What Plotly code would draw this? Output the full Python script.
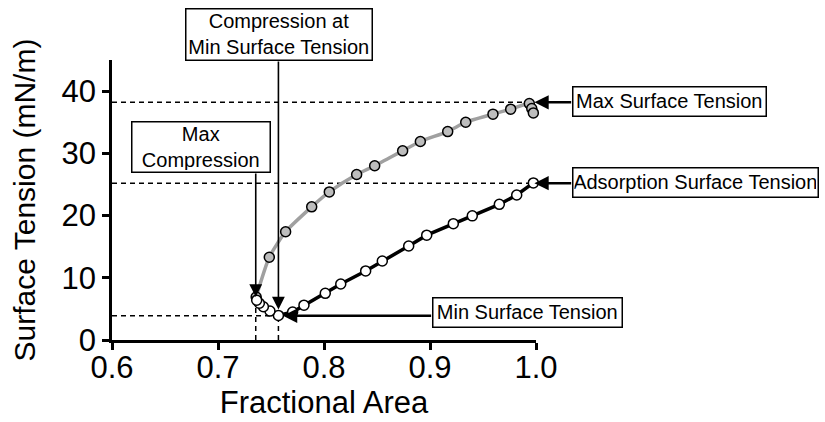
import plotly.graph_objects as go

# ---- data ----
comp_area = [0.9975, 0.9818, 0.9654, 0.9399, 0.9220, 0.8969, 0.8799, 0.8550, 0.8393,
             0.8158, 0.8012, 0.7811, 0.7704, 0.7570, 0.7490, 0.7428, 0.7390, 0.7365]
comp_st = [25.25, 23.3, 21.8, 19.95, 18.7, 16.85, 15.1, 12.7, 11.1,
           9.0, 7.5, 5.6, 4.5, 3.95, 4.65, 5.35, 5.9, 6.4]

exp_area = [0.7360, 0.7484, 0.7638, 0.7884, 0.8050, 0.8308, 0.8478, 0.8742, 0.8909,
            0.9167, 0.9337, 0.9594, 0.9761, 0.9937, 0.9960, 0.9975]
exp_st = [6.9, 13.3, 17.4, 21.4, 23.8, 26.6, 28.0, 30.4, 31.9,
          33.5, 35.0, 36.3, 37.1, 38.0, 37.2, 36.5]

max_st = 38.2
ads_st = 25.2
min_st = 3.9
max_comp_area = 0.7356
min_st_area = 0.757
max_st_area = 0.9955
ads_area = 0.998

x_ticks = [0.6, 0.7, 0.8, 0.9, 1.0]
x_ticklabels = ["0.6", "0.7", "0.8", "0.9", "1.0"]
y_ticks = [0, 10, 20, 30, 40]

FONT = "Liberation Sans, Arial, sans-serif"

fig = go.Figure()

# dashed reference lines
dash = dict(color="black", width=1.5, dash="5px,4px")
fig.add_trace(go.Scatter(x=[0.6, max_st_area], y=[max_st, max_st], mode="lines", line=dash, hoverinfo="skip"))
fig.add_trace(go.Scatter(x=[0.6, ads_area], y=[ads_st, ads_st], mode="lines", line=dash, hoverinfo="skip"))
fig.add_trace(go.Scatter(x=[0.6, min_st_area], y=[min_st, min_st], mode="lines", line=dash, hoverinfo="skip"))
fig.add_trace(go.Scatter(x=[max_comp_area, max_comp_area], y=[0, 6.4], mode="lines", line=dash, hoverinfo="skip"))
fig.add_trace(go.Scatter(x=[min_st_area, min_st_area], y=[0, min_st], mode="lines", line=dash, hoverinfo="skip"))

# expansion (gray)
fig.add_trace(go.Scatter(
    x=exp_area, y=exp_st, mode="lines+markers",
    line=dict(color="#a0a0a0", width=3.5, shape="spline", smoothing=0.6),
    marker=dict(size=10, color="#bdbdbd", line=dict(color="black", width=1.5)),
    cliponaxis=False))
# compression (white)
fig.add_trace(go.Scatter(
    x=comp_area, y=comp_st, mode="lines+markers",
    line=dict(color="black", width=3.5),
    marker=dict(size=10, color="white", line=dict(color="black", width=1.5)),
    cliponaxis=False))

# arrows (tail -> tip), data-space coordinates
arrows = [
    # (tip_x, tip_y, tail_x, tail_y, width, size)
    (min_st_area, 4.9, min_st_area, 45.0, 1.6, 1.6),
    (max_comp_area, 6.9, max_comp_area, 27.0, 1.6, 1.6),
    (0.9985, max_st, 1.0346, max_st, 2.6, 1.1),
    (0.9985, ads_st, 1.0346, ads_st, 2.6, 1.1),
    (0.7613, min_st, 0.9025, min_st, 2.6, 1.1),
]
for tx, ty, sx, sy, w, s in arrows:
    fig.add_annotation(x=tx, y=ty, ax=sx, ay=sy, xref="x", yref="y", axref="x", ayref="y",
                       text="", showarrow=True, arrowhead=2, arrowwidth=w, arrowsize=s,
                       arrowcolor="black")

# text boxes (center position in paper units, outer width, outer height)
boxes = [
    ("Compression at<br>Min Surface Tension", 0.394, 1.091, 186, 51),
    ("Max<br>Compression", 0.210, 0.689, 138, 50),
    ("Max Surface Tension", 1.314, 0.852, 193, 29),
    ("Adsorption Surface Tension", 1.375, 0.564, 245, 29),
    ("Min Surface Tension", 0.980, 0.100, 189, 29),
]
for txt, bx, by, w, h in boxes:
    fig.add_annotation(x=bx, y=by, xref="paper", yref="paper", text=txt, showarrow=False,
                       font=dict(family=FONT, size=20, color="black"),
                       bgcolor="white", bordercolor="black", borderwidth=1.5, borderpad=1,
                       width=w - 3.5, height=h - 3.5, xanchor="center", yanchor="middle",
                       align="center")

fig.update_layout(
    width=825, height=422,
    margin=dict(l=112, r=289, t=60, b=82),
    plot_bgcolor="white", paper_bgcolor="white",
    showlegend=False,
    font=dict(family=FONT, color="black"),
    xaxis=dict(range=[0.6, 1.0], tickvals=x_ticks, ticktext=x_ticklabels,
               showgrid=False, zeroline=False, showline=True, linecolor="black", linewidth=2.5,
               ticks="outside", ticklen=7, tickwidth=2.5, tickcolor="black",
               ticklabelstandoff=-9,
               tickfont=dict(size=31, family=FONT, color="black"),
               title=dict(text="Fractional Area", font=dict(size=31, family=FONT, color="black"), standoff=4),
               automargin=False),
    yaxis=dict(range=[0, 45], tickvals=y_ticks,
               showgrid=False, zeroline=False, showline=True, linecolor="black", linewidth=2.5,
               ticks="outside", ticklen=7, tickwidth=2.5, tickcolor="black",
               tickfont=dict(size=31, family=FONT, color="black"),
               title=dict(text="Surface Tension (mN/m)", font=dict(size=30, family=FONT, color="black"), standoff=18),
               automargin=False),
)

fig.write_html("out.html")
